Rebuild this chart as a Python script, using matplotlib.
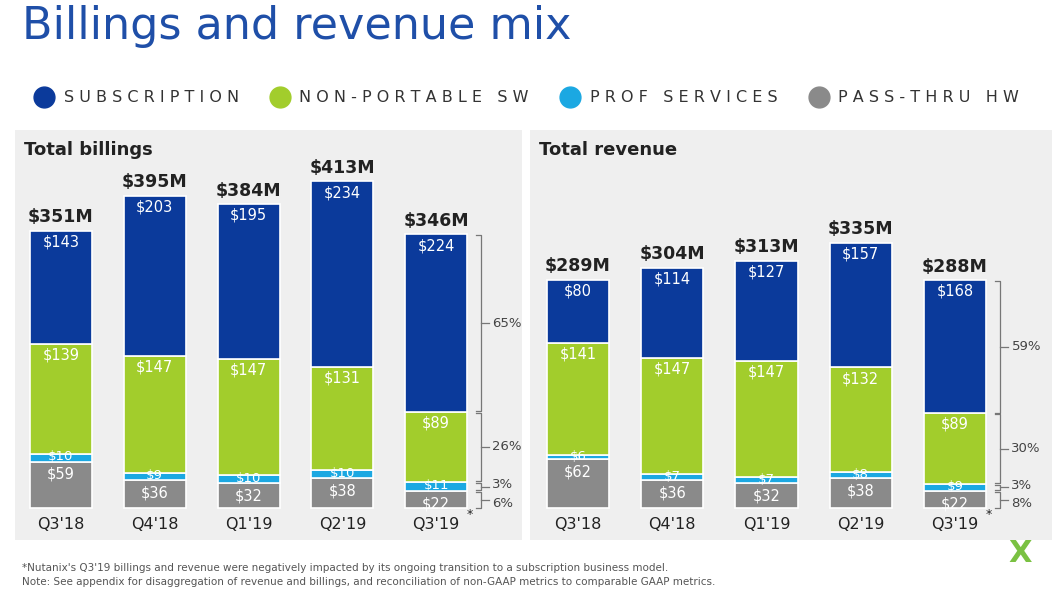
import matplotlib

matplotlib.use("Agg")
import matplotlib.pyplot as plt  # noqa: E402
import numpy as np  # noqa: E402
from matplotlib.lines import Line2D  # noqa: E402

quarters = ["Q3'18", "Q4'18", "Q1'19", "Q2'19", "Q3'19"]
segments = ["SUBSCRIPTION", "NON-PORTABLE SW", "PROF SERVICES", "PASS-THRU HW"]

bill_sub = [143, 203, 195, 234, 224]
bill_np = [139, 147, 147, 131, 89]
bill_prof = [10, 9, 10, 10, 11]
bill_hw = [59, 36, 32, 38, 22]
bill_total = [351, 395, 384, 413, 346]
bill_pct = ["65%", "26%", "3%", "6%"]

rev_sub = [80, 114, 127, 157, 168]
rev_np = [141, 147, 147, 132, 89]
rev_prof = [6, 7, 7, 8, 9]
rev_hw = [62, 36, 32, 38, 22]
rev_total = [289, 304, 313, 335, 288]
rev_pct = ["59%", "30%", "3%", "8%"]

C_SUB, C_NP, C_PROF, C_HW = "#0b3a9b", "#a2cd2c", "#1ba8e2", "#8a8a8a"
TXT = "#222222"
BLUE_T = "#1f4fa8"
PANEL = "#efefef"

W, H = 1056, 594
fig = plt.figure(figsize=(W / 100, H / 100), dpi=100)
fig.patch.set_facecolor("white")


def box(x0, y0, x1, y1):
    return [x0 / W, 1 - y1 / H, (x1 - x0) / W, (y1 - y0) / H]


def panel(rect, xlim, title, sub, npw, prof, hw, total, pct):
    ax = fig.add_axes(rect)
    ax.set_facecolor(PANEL)
    ax.set_xlim(*xlim)
    ax.set_ylim(-40, 478)
    for s in ax.spines.values():
        s.set_visible(False)
    ax.set_xticks([])
    ax.set_yticks([])
    x = np.arange(len(quarters))
    w = 0.66
    layers = [(hw, C_HW, "hw"), (prof, C_PROF, "prof"), (npw, C_NP, "np"), (sub, C_SUB, "sub")]
    bottom = np.zeros(len(x))
    for vals, col, kind in layers:
        vals = np.array(vals, float)
        ax.bar(x, vals, w, bottom=bottom, color=col, edgecolor="white", linewidth=1.2)
        for xi, b, v in zip(x, bottom, vals):
            if kind == "prof":
                yt, fs = b + v / 2 + 1, 9.5
            elif kind == "hw":
                yt, fs = b + v - 16, 10.5
            else:
                yt, fs = b + v - 14, 10.5
            ax.text(xi, yt, f"${int(v)}", ha="center", va="center", color="white", fontsize=fs)
        bottom += vals
    for xi, t in zip(x, total):
        ax.text(xi, t + 6, f"${t}M", ha="center", va="bottom", color=TXT,
                fontsize=12.5, fontweight="bold")
    for xi, q in zip(x, quarters):
        ax.text(xi, -20, q, ha="center", va="center", color=TXT, fontsize=11.5)
    ax.text(len(x) - 1 + 0.33, -16, "*", fontsize=9, color=TXT, ha="left", va="bottom")
    ax.text(xlim[0] + 0.1, 464, title, ha="left", va="top", color=TXT,
            fontsize=13, fontweight="bold")
    # brackets on last bar
    i = len(x) - 1
    bx = i + 0.42
    segs = [sub[i], npw[i], prof[i], hw[i]]
    tops, cur = [], total[i]
    for s in segs:
        tops.append((cur - s, cur))
        cur -= s
    for k, ((lo, hi), p) in enumerate(zip(tops, pct)):
        ax.plot([bx, bx + 0.06, bx + 0.06, bx], [hi - 1, hi - 1, lo + 1, lo + 1],
                color="#777777", lw=0.9)
        mid = (lo + hi) / 2
        ax.plot([bx + 0.06, bx + 0.14], [mid, mid], color="#777777", lw=0.9)
        ym = mid
        if k == 2:
            ym = mid + 2
        if k == 3:
            ym = mid - 5
        ax.text(bx + 0.18, ym, p, ha="left", va="center", color="#444444", fontsize=9.5)
    return ax


panel(box(15, 130, 522, 540), (-0.49, 4.915), "Total billings",
      bill_sub, bill_np, bill_prof, bill_hw, bill_total, bill_pct)
panel(box(530, 130, 1052, 540), (-0.51, 5.03), "Total revenue",
      rev_sub, rev_np, rev_prof, rev_hw, rev_total, rev_pct)

fig.text(22 / W, 1 - 27 / H, "Billings and revenue mix", ha="left", va="center",
         color=BLUE_T, fontsize=32)

handles = [Line2D([], [], marker="o", ls="", markersize=15, color=c)
           for c in (C_SUB, C_NP, C_PROF, C_HW)]
labels = [" ".join(s) for s in segments]
fig.legend(handles, labels, loc="center left", bbox_to_anchor=(14 / W, 1 - 98 / H),
           ncol=4, frameon=False, fontsize=11.5, handletextpad=0.2, columnspacing=1.6,
           labelcolor="#333333")

fig.text(22 / W, 1 - 568 / H,
         "*Nutanix's Q3'19 billings and revenue were negatively impacted by its ongoing "
         "transition to a subscription business model.",
         fontsize=7.5, color="#555555", va="center")
fig.text(22 / W, 1 - 582 / H,
         "Note: See appendix for disaggregation of revenue and billings, and reconciliation "
         "of non-GAAP metrics to comparable GAAP metrics.",
         fontsize=7.5, color="#555555", va="center")
fig.text(1020 / W, 1 - 553 / H, "X", fontsize=22, fontweight="bold", color="#7ac142",
         ha="center", va="center")

fig.savefig("out.png", dpi=100)
